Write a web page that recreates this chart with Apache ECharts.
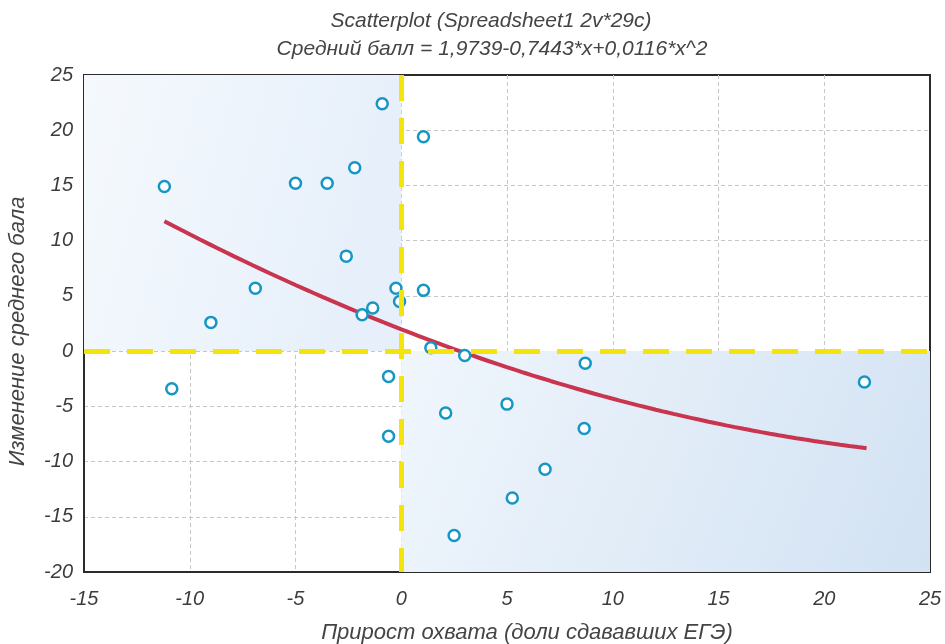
<!DOCTYPE html>
<html>
<head>
<meta charset="utf-8">
<script src="https://cdn.jsdelivr.net/npm/echarts@6/dist/echarts.min.js"></script>
<style>
  html, body { margin: 0; padding: 0; background: #ffffff; }
  #chart { width: 945px; height: 644px; }
</style>
</head>
<body>
<div id="chart"></div>
<script>
// Coverage growth (x) vs. change in the average score (y), one point per case
const coverageGrowth = [
  -11.2, -10.85, -9.0, -6.9, -5.0, -3.5, -2.2, -2.6, -0.9, -1.85,
  -1.35, -0.25, -0.08, 1.05, 1.05, 1.4, 3.0, -0.6, -0.6, 2.1,
  5.0, 8.7, 8.65, 6.8, 5.25, 2.5, 21.9
];
const scoreChange = [
  14.9, -3.4, 2.6, 5.7, 15.2, 15.2, 16.6, 8.6, 22.4, 3.3,
  3.9, 5.7, 4.5, 19.4, 5.5, 0.3, -0.4, -2.3, -7.7, -5.6,
  -4.8, -1.1, -7.0, -10.7, -13.3, -16.7, -2.8
];

// Quadratic fit stated in the subtitle: a + b*x + c*x^2
const fitCoef = [1.9739, -0.7443, 0.0116];
const fitRange = [-11.2, 22.0];

// Axis ranges and tick step
const xRange = [-15, 25];
const yRange = [-20, 25];
const tickStep = 5;

const titleLines = [
  'Scatterplot (Spreadsheet1 2v*29c)',
  'Средний балл = 1,9739-0,7443*x+0,0116*x^2'
];
const xAxisTitle = 'Прирост охвата (доли сдававших ЕГЭ)';
const yAxisTitle = 'Изменение среднего бала';

const points = coverageGrowth.map((x, i) => [x, scoreChange[i]]);

const fitLine = [];
const fitSteps = 80;
for (let i = 0; i <= fitSteps; i++) {
  const x = fitRange[0] + (fitRange[1] - fitRange[0]) * i / fitSteps;
  fitLine.push([x, fitCoef[0] + fitCoef[1] * x + fitCoef[2] * x * x]);
}

const labelFont = {
  fontFamily: 'Liberation Sans, Arial, sans-serif',
  fontStyle: 'italic',
  color: '#3c3c3c'
};

const gridLine = {
  show: true,
  showMinLine: false,
  showMaxLine: false,
  lineStyle: { color: '#c6c6c6', width: 1, type: [4, 3] }
};

const titleStyle = Object.assign({}, labelFont, {
  fontSize: 21, fontWeight: 'normal', color: '#444'
});

const chart = echarts.init(document.getElementById('chart'), null, { renderer: 'canvas' });

chart.setOption({
  backgroundColor: '#ffffff',
  animation: false,
  title: [
    { text: titleLines[0], left: 486, textAlign: 'center', top: 6, textStyle: titleStyle },
    { text: titleLines[1], left: 487, textAlign: 'center', top: 34, textStyle: titleStyle }
  ],
  grid: {
    left: 84, right: 15, top: 75, bottom: 72,
    containLabel: false,
    outerBoundsMode: 'none',
    show: true,
    borderColor: '#2b2b2b',
    borderWidth: 2,
    backgroundColor: 'transparent'
  },
  xAxis: {
    type: 'value',
    min: xRange[0], max: xRange[1], interval: tickStep,
    name: xAxisTitle,
    nameLocation: 'middle',
    nameGap: 50,
    nameTextStyle: Object.assign({}, labelFont, { fontSize: 22, color: '#444', padding: [0, 0, 0, 40] }),
    axisLine: { show: true, onZero: false, lineStyle: { color: '#2b2b2b', width: 2 } },
    axisTick: { show: false },
    axisLabel: Object.assign({}, labelFont, { fontSize: 20, margin: 17 }),
    splitLine: gridLine
  },
  yAxis: {
    type: 'value',
    min: yRange[0], max: yRange[1], interval: tickStep,
    name: yAxisTitle,
    nameLocation: 'middle',
    nameGap: 55,
    nameRotate: 90,
    nameTextStyle: Object.assign({}, labelFont, { fontSize: 22, color: '#444', padding: [0, 16, 0, 0] }),
    axisLine: { show: true, onZero: false, lineStyle: { color: '#2b2b2b', width: 2 } },
    axisTick: { show: false },
    axisLabel: Object.assign({}, labelFont, { fontSize: 20, margin: 11 }),
    splitLine: gridLine
  },
  series: [
    {
      // shaded quadrants: upper-left and lower-right
      type: 'scatter',
      data: [],
      silent: true,
      z: 0,
      markArea: {
        silent: true,
        data: [
          [
            {
              coord: [xRange[0], yRange[1]],
              itemStyle: {
                color: {
                  type: 'linear', x: 0, y: 0, x2: 1, y2: 0.3,
                  colorStops: [
                    { offset: 0, color: '#f5f9fd' },
                    { offset: 1, color: '#e6effa' }
                  ]
                }
              }
            },
            { coord: [0, 0] }
          ],
          [
            {
              coord: [0, 0],
              itemStyle: {
                color: {
                  type: 'linear', x: 0, y: 0, x2: 1, y2: 1,
                  colorStops: [
                    { offset: 0, color: '#f0f6fc' },
                    { offset: 1, color: '#d2e2f3' }
                  ]
                }
              }
            },
            { coord: [xRange[1], yRange[0]] }
          ]
        ]
      }
    },
    {
      name: 'fit',
      type: 'line',
      data: fitLine,
      showSymbol: false,
      smooth: false,
      z: 3,
      lineStyle: { color: '#c9344f', width: 4 }
    },
    {
      name: 'cases',
      type: 'scatter',
      data: points,
      symbol: 'circle',
      symbolSize: 11,
      z: 4,
      itemStyle: { color: '#ffffff', opacity: 1, borderColor: '#1596c4', borderWidth: 2.5 }
    },
    {
      // dashed reference lines through the origin
      type: 'line',
      data: [],
      z: 5,
      markLine: {
        silent: true,
        symbol: ['none', 'none'],
        label: { show: false },
        lineStyle: { color: '#f4e40c', width: 5, type: [26, 17] },
        data: [
          [{ coord: [xRange[0], 0] }, { coord: [xRange[1], 0] }],
          [{ coord: [0, yRange[1]] }, { coord: [0, yRange[0]] }]
        ]
      }
    }
  ]
});
</script>
</body>
</html>
